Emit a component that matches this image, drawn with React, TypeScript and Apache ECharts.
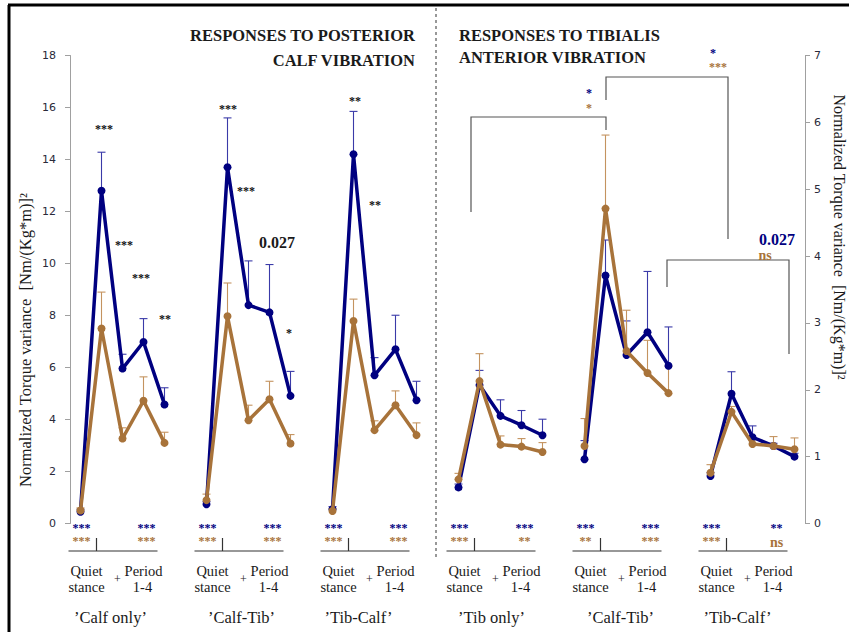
import React, { useEffect, useRef } from "react";
import * as echarts from "echarts";

// ---------- data ----------
const groupNames = ["’Calf only’", "’Calf-Tib’", "’Tib-Calf’", "’Tib only’", "’Calf-Tib’", "’Tib-Calf’"];
const conditions = ["Quiet stance", "Period 1", "Period 2", "Period 3", "Period 4"];
const groupAxis = [0, 0, 0, 1, 1, 1]; // 0 = left axis (posterior calf), 1 = right axis (tibialis anterior)

const leftTicks = [0, 2, 4, 6, 8, 10, 12, 14, 16, 18];
const rightTicks = [0, 1, 2, 3, 4, 5, 6, 7];

const navyMean = [
  [0.45, 12.8, 5.96, 6.98, 4.58],
  [0.74, 13.7, 8.4, 8.12, 4.91],
  [0.55, 14.2, 5.7, 6.7, 4.74],
  [0.54, 2.07, 1.61, 1.47, 1.32],
  [0.96, 3.71, 2.52, 2.86, 2.36],
  [0.71, 1.94, 1.29, 1.16, 1.0],
];
const navySE = [
  [0.1, 1.48, 0.55, 0.9, 0.64],
  [0.1, 1.9, 1.7, 1.84, 0.94],
  [0.1, 1.65, 0.68, 1.31, 0.73],
  [0.05, 0.22, 0.24, 0.22, 0.24],
  [0.28, 0.53, 0.51, 0.91, 0.58],
  [0.05, 0.33, 0.17, 0.04, 0.05],
];
const brownMean = [
  [0.5, 7.5, 3.27, 4.72, 3.1],
  [0.9, 7.97, 3.97, 4.78, 3.08],
  [0.48, 7.79, 3.59, 4.55, 3.4],
  [0.66, 2.13, 1.18, 1.15, 1.07],
  [1.16, 4.71, 2.58, 2.25, 1.95],
  [0.76, 1.67, 1.19, 1.16, 1.11],
];
const brownSE = [
  [0.1, 1.4, 0.41, 0.92, 0.41],
  [0.23, 1.28, 0.58, 0.69, 0.34],
  [0.1, 0.84, 0.36, 0.55, 0.47],
  [0.09, 0.41, 0.13, 0.12, 0.14],
  [0.41, 1.1, 0.61, 0.49, 0.4],
  [0.12, 0.08, 0.06, 0.14, 0.17],
];

// significance labels under each group: [blue left, brown left, blue right, brown right]
const bottomSig = [
  ["***", "***", "***", "***"],
  ["***", "***", "***", "***"],
  ["***", "***", "***", "***"],
  ["***", "***", "***", "**"],
  ["***", "**", "***", "***"],
  ["***", "***", "**", "ns"],
];

// ---------- styles ----------
const NAVY = "#000080";
const BROWN = "#a8733a";
const NAVY_ERR = "#3a3aa8";
const BROWN_ERR = "#c4935f";
const SERIF = "'Liberation Serif', 'DejaVu Serif', serif";
const SANS = "'DejaVu Sans', Verdana, sans-serif";

const SLOTS = 35;
const slotOf = (g: number, j: number) => g * 6 + j;

function buildLine(mean: number[][], axis: number) {
  const arr: (number | null)[] = new Array(SLOTS).fill(null);
  mean.forEach((grp, g) => {
    if (groupAxis[g] !== axis) return;
    grp.forEach((v, j) => (arr[slotOf(g, j)] = v));
  });
  return arr;
}
function buildErr(mean: number[][], se: number[][], axis: number) {
  const out: number[][] = [];
  mean.forEach((grp, g) => {
    if (groupAxis[g] !== axis) return;
    grp.forEach((v, j) => out.push([slotOf(g, j), v, +(v + se[g][j]).toFixed(3)]));
  });
  return out;
}

function errSeries(name: string, data: number[][], axis: number, color: string) {
  return {
    name,
    type: "custom",
    xAxisIndex: 0,
    yAxisIndex: axis,
    z: 1,
    encode: { x: 0, y: [1, 2] },
    data,
    renderItem: (params: any, api: any) => {
      const x = api.value(0);
      const p0 = api.coord([x, api.value(1)]);
      const p1 = api.coord([x, api.value(2)]);
      const st = { stroke: color, lineWidth: 1.1 };
      return {
        type: "group",
        children: [
          { type: "line", shape: { x1: p0[0], y1: p0[1], x2: p1[0], y2: p1[1] }, style: st },
          { type: "line", shape: { x1: p1[0] - 4, y1: p1[1], x2: p1[0] + 4, y2: p1[1] }, style: st },
        ],
      };
    },
  };
}

function lineSeries(name: string, data: (number | null)[], axis: number, color: string, z: number) {
  return {
    name,
    type: "line",
    xAxisIndex: 0,
    yAxisIndex: axis,
    data,
    z,
    connectNulls: false,
    symbol: "circle",
    symbolSize: 8,
    lineStyle: { color, width: 3.5 },
    itemStyle: { color },
  };
}

const categories = Array.from({ length: SLOTS }, (_, i) => {
  const g = Math.floor(i / 6);
  const j = i % 6;
  return j < 5 ? `${g + 1}: ${conditions[j]}` : `gap ${g + 1}`;
});

function txt(text: string, x: number, y: number, opts: any = {}) {
  const style: any = {
    text,
    fill: opts.color || "#1a1a1a",
    fontSize: opts.size || 13,
    fontFamily: opts.family || SERIF,
    fontWeight: opts.bold ? "bold" : "normal",
    align: opts.align || "center",
    verticalAlign: opts.valign || "middle",
  };
  if (opts.lineHeight) style.lineHeight = opts.lineHeight;
  return {
    type: "text",
    x,
    y,
    z: 10,
    rotation: opts.rotation || 0,
    style,
  };
}
function ln(x1: number, y1: number, x2: number, y2: number, color = "#333", w = 1.2, dash?: number[]) {
  return {
    type: "line",
    z: 10,
    shape: { x1, y1, x2, y2 },
    style: { stroke: color, lineWidth: w, lineDash: dash },
  };
}

export default function App() {
  const ref = useRef<HTMLDivElement>(null);
  useEffect(() => {
    const chart = echarts.init(ref.current!, null, { renderer: "svg" });
    chart.setOption({
      animation: false,
      backgroundColor: "#ffffff",
      grid: { left: 70, right: 44, top: 55.5, bottom: 108.5, containLabel: false },
      xAxis: {
        type: "category",
        data: categories,
        boundaryGap: true,
        show: false,
      },
      yAxis: [
        {
          type: "value",
          min: leftTicks[0],
          max: leftTicks[leftTicks.length - 1],
          interval: 2,
          position: "left",
          splitLine: { show: false },
          axisLine: { show: true, lineStyle: { color: "#a0a0a0", width: 1 } },
          axisTick: { show: true, length: 5, lineStyle: { color: "#a0a0a0" } },
          axisLabel: { margin: 14, color: "#2a2a3a", fontSize: 11, fontFamily: SANS },
        },
        {
          type: "value",
          min: rightTicks[0],
          max: rightTicks[rightTicks.length - 1],
          interval: 1,
          position: "right",
          splitLine: { show: false },
          axisLine: { show: true, lineStyle: { color: "#a0a0a0", width: 1 } },
          axisTick: { show: true, length: 5, lineStyle: { color: "#a0a0a0" } },
          axisLabel: { margin: 9, color: "#2a2a3a", fontSize: 11, fontFamily: SANS },
        },
      ],
      series: [
        errSeries("navy err L", buildErr(navyMean, navySE, 0), 0, NAVY_ERR),
        errSeries("brown err L", buildErr(brownMean, brownSE, 0), 0, BROWN_ERR),
        errSeries("navy err R", buildErr(navyMean, navySE, 1), 1, NAVY_ERR),
        errSeries("brown err R", buildErr(brownMean, brownSE, 1), 1, BROWN_ERR),
        lineSeries("Navy (left)", buildLine(navyMean, 0), 0, NAVY, 3),
        lineSeries("Brown (left)", buildLine(brownMean, 0), 0, BROWN, 4),
        lineSeries("Navy (right)", buildLine(navyMean, 1), 1, NAVY, 3),
        lineSeries("Brown (right)", buildLine(brownMean, 1), 1, BROWN, 4),
      ],
    });

    const g: any[] = [];
    // frame and divider
    g.push(ln(8, 5, 849, 5, "#000", 3));
    g.push(ln(9, 5, 9, 632, "#000", 3));
    g.push(ln(436, 8, 436, 560, "#777", 1.5, [3, 3]));

    // titles
    g.push(txt("RESPONSES TO POSTERIOR", 415, 35, { bold: true, size: 16.5, align: "right" }));
    g.push(txt("CALF VIBRATION", 415, 60, { bold: true, size: 16.5, align: "right" }));
    g.push(txt("RESPONSES TO TIBIALIS", 459, 35, { bold: true, size: 16.5, align: "left" }));
    g.push(txt("ANTERIOR VIBRATION", 459, 57, { bold: true, size: 16.5, align: "left" }));

    // axis names
    g.push(txt("Normalized Torque variance  [Nm/(Kg*m)]²", 25, 340, { size: 16.5, rotation: Math.PI / 2 }));
    g.push(txt("Normalized Torque variance  [Nm/(Kg*m)]²", 839, 237, { size: 16, rotation: -Math.PI / 2, lineHeight: 16 }));

    // significance stars
    const star = (t: string, x: number, y: number, color = "#111") =>
      g.push(txt(t, x, y + 2, { size: 12, bold: true, color, lineHeight: 9 }));
    star("***", 104, 127);
    star("***", 124, 243);
    star("***", 141, 276);
    star("**", 165, 317);
    star("***", 228, 107);
    star("***", 246, 189);
    star("*", 289, 331);
    star("**", 355, 99);
    star("**", 375, 203);
    g.push(txt("0.027", 277, 242, { size: 16, bold: true }));

    // right panel brackets and stars
    const bracket = (pts: number[][]) =>
      g.push({ type: "polyline", z: 10, shape: { points: pts }, style: { stroke: "#555", lineWidth: 1.2, fill: null } });
    bracket([[471, 212], [471, 117], [606, 117], [606, 130]]);
    bracket([[606, 100], [606, 77], [728, 77], [728, 239]]);
    bracket([[667, 287], [667, 260], [789, 260], [789, 354]]);
    star("*", 589, 91, NAVY);
    star("*", 589, 106, BROWN);
    star("*", 713, 51, NAVY);
    star("***", 718, 65, BROWN);
    g.push(txt("0.027", 777, 239, { size: 16, bold: true, color: NAVY, lineHeight: 12 }));
    g.push(txt("ns", 765, 255, { size: 14, bold: true, color: BROWN, lineHeight: 10 }));

    // bottom labels per group
    const nameOffset = [30, 35, 26, 33, 36, 27];
    groupNames.forEach((name, gi) => {
      const X1 = chart.convertToPixel({ xAxisIndex: 0 }, slotOf(gi, 0)) as number;
      const sig = bottomSig[gi];
      star(sig[0], X1 + 1, 526, NAVY);
      star(sig[1], X1 + 1, 539, BROWN);
      star(sig[2], X1 + 66, 526, NAVY);
      if (sig[3] === "ns") g.push(txt("ns", X1 + 66, 542, { size: 14, bold: true, color: BROWN, lineHeight: 10 }));
      else star(sig[3], X1 + 66, 539, BROWN);
      g.push(ln(X1 - 12, 551, X1 + 77, 551, "#333", 1.2));
      g.push(ln(X1 + 16, 538, X1 + 16, 551, "#333", 1.2));
      g.push(txt("Quiet", X1 + 6, 571, { size: 14.5, lineHeight: 14 }));
      g.push(txt("stance", X1 + 6, 587, { size: 14.5, lineHeight: 14 }));
      g.push(txt("+", X1 + 37, 579, { size: 12 }));
      g.push(txt("Period", X1 + 63, 571, { size: 14.5, lineHeight: 14 }));
      g.push(txt("1-4", X1 + 62, 587, { size: 14.5, lineHeight: 14 }));
      g.push(txt(name, X1 + nameOffset[gi], 617, { size: 16.5 }));
    });

    chart.setOption({ graphic: { elements: g } });
    return () => chart.dispose();
  }, []);
  return <div ref={ref} style={{ position: "absolute", left: 0, top: 0, width: 849, height: 632 }} />;
}
